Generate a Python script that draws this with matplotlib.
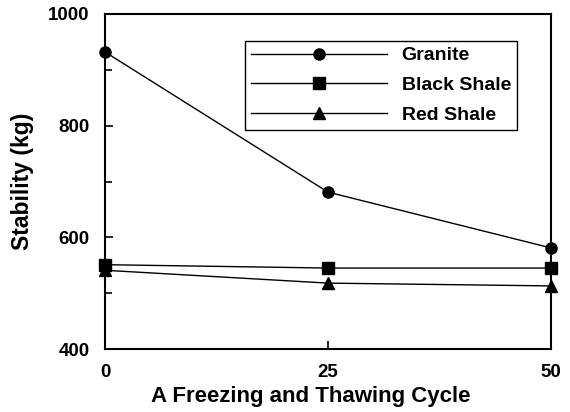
import matplotlib
matplotlib.use("Agg")
import matplotlib.pyplot as plt
from matplotlib.ticker import MultipleLocator

cycles = [0, 25, 50]
granite = [932, 681, 581]
black_shale = [551, 545, 545]
red_shale = [541, 518, 513]

plt.rcParams["font.family"] = ["Liberation Sans", "DejaVu Sans"]
plt.rcParams["font.weight"] = "bold"

fig = plt.figure(figsize=(5.7, 4.12), dpi=100)
ax = fig.add_axes([105 / 570, 63 / 412, 446 / 570, 335 / 412])

ax.plot(cycles, granite, "k-", marker="o", ms=8, lw=1, label="Granite", clip_on=False)
ax.plot(cycles, black_shale, "k-", marker="s", ms=8, lw=1, label="Black Shale", clip_on=False)
ax.plot(cycles, red_shale, "k-", marker="^", ms=8, lw=1, label="Red Shale", clip_on=False)

ax.set_xlim(0, 50)
ax.set_ylim(400, 1000)
ax.set_xticks([0, 25, 50])
ax.yaxis.set_major_locator(MultipleLocator(200))
ax.yaxis.set_minor_locator(MultipleLocator(100))
ax.tick_params(which="major", direction="in", length=6, width=1.2, labelsize=13.5)
ax.tick_params(which="minor", direction="in", length=5, width=1.2)
ax.tick_params(axis="x", pad=11)
ax.tick_params(axis="y", pad=11)
for s in ax.spines.values():
    s.set_linewidth(1.5)

ax.set_xlabel("A Freezing and Thawing Cycle", fontsize=16, fontweight="bold")
ax.xaxis.set_label_coords(0.461, -0.11)
ax.set_ylabel("Stability (kg)", fontsize=16.5, fontweight="bold", labelpad=10)

leg = ax.legend(loc="upper left", bbox_to_anchor=(140 / 446, 1 - 27 / 335),
                fontsize=14, handlelength=7, handletextpad=0.75, fancybox=False,
                edgecolor="black", framealpha=1, borderpad=0.3, labelspacing=0.62,
                borderaxespad=0)
leg.get_frame().set_linewidth(1)

fig.savefig("out.png", dpi=100)
